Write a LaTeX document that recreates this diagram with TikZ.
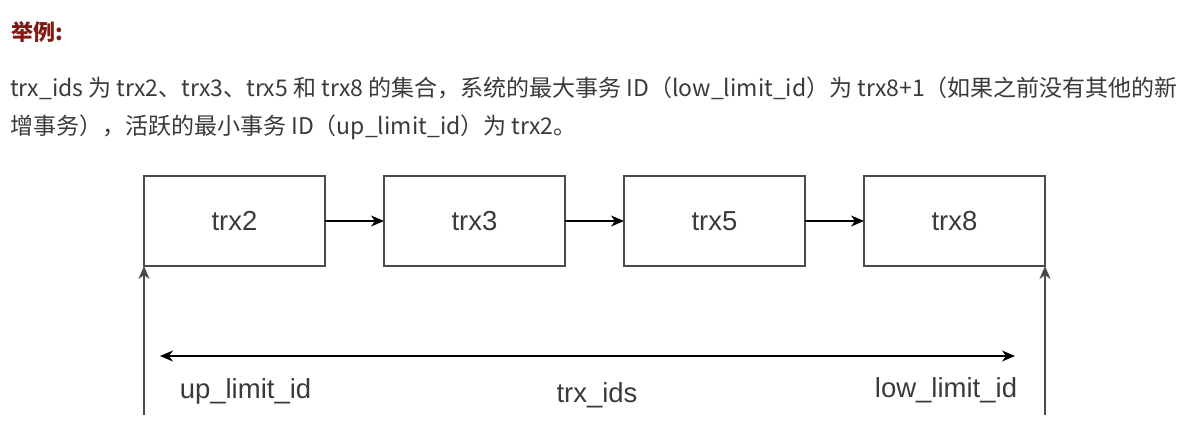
\documentclass[tikz,border=0pt]{standalone}
\usepackage{fontspec}
\setmainfont{Liberation Sans}
\newfontfamily\cjk{Noto Sans CJK SC}
\usetikzlibrary{positioning,arrows.meta}
\definecolor{headred}{HTML}{7E1C14}
\definecolor{bodygray}{HTML}{3A3A3A}
\definecolor{boxgray}{HTML}{4A4A4A}
\tikzset{
	trxbox/.style = {draw = boxgray, line width = 1.4pt, minimum width = 181pt, minimum height = 90pt, inner sep = 0pt, outer sep = 0pt, font = \fontsize{27.5}{32}\selectfont, text = bodygray},
	link/.style = {line width = 1.4pt, -{Stealth[length = 13pt, width = 11pt, inset = 4pt]}},
	limit/.style = {font = \fontsize{27.5}{32}\selectfont, text = bodygray},
	para/.style = {anchor = west, inner sep = 0pt, font = \cjk\fontsize{23}{27}\selectfont, text = bodygray}
}
\begin{document}
\begin{tikzpicture}[x = 1pt, y = -1pt]
	\useasboundingbox (0,0) rectangle (1190,431);
	\node [anchor = west, inner sep = 0pt, text = headred, font = \cjk\bfseries\fontsize{22}{26}\selectfont] (head) at (11,32) {举例:};
	\node [para] (line1) at (10,88) {trx\_ids 为 trx2、trx3、trx5 和 trx8 的集合，系统的最大事务 ID（low\_limit\_id）为 trx8+1（如果之前没有其他的新};
	\node [para] (line2) at (10,127) {增事务），活跃的最小事务 ID（up\_limit\_id）为 trx2。};
	\node [trxbox] (trx2) at (234.5,221) {trx2};
	\node [trxbox, right = 59pt of trx2] (trx3) {trx3};
	\node [trxbox, right = 59pt of trx3] (trx5) {trx5};
	\node [trxbox, right = 59pt of trx5] (trx8) {trx8};
	\draw [link] (trx2) -- (trx3);
	\draw [link] (trx3) -- (trx5);
	\draw [link] (trx5) -- (trx8);
	\coordinate (uplow) at (144,415);
	\coordinate (lowlow) at (1045,415);
	\coordinate (idsleft) at (160,356);
	\coordinate (idsright) at (1015,356);
	\draw [link, draw = boxgray] (uplow) -- (trx2.south west);
	\draw [link, draw = boxgray] (lowlow) -- (trx8.south east);
	\draw [link, {Stealth[length = 13pt, width = 11pt, inset = 4pt]}-{Stealth[length = 13pt, width = 11pt, inset = 4pt]}] (idsleft) -- (idsright);
	\node [limit] (uplim) at (245.5,391) {up\_limit\_id};
	\node [limit] (ids) at (597,395) {trx\_ids};
	\node [limit] (lowlim) at (946,390) {low\_limit\_id};
\end{tikzpicture}
\end{document}
